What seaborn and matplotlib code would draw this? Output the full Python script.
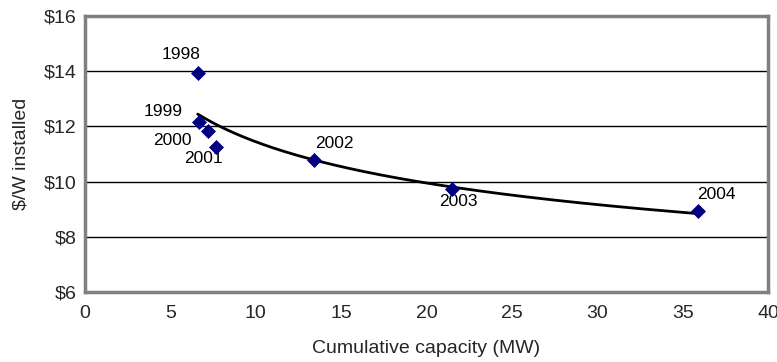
import numpy as np
import pandas as pd
from matplotlib import pyplot as plt
import seaborn as sns

years = ["1998", "1999", "2000", "2001", "2002", "2003", "2004"]
capacity_mw = [6.6, 6.65, 7.2, 7.7, 13.4, 21.5, 35.9]
cost_per_w = [13.95, 12.16, 11.85, 11.27, 10.8, 9.75, 8.94]
# label offsets in pixels (dx, dy) from each marker
label_offsets = [(-17, 18), (-35, 10), (-36, -10), (-13, -12), (21, 16), (6, -13), (18, 16)]

df = pd.DataFrame({"year": years, "capacity": capacity_mw, "cost": cost_per_w})

sns.set_theme(style="white")
plt.rcParams["font.family"] = ["Liberation Sans", "DejaVu Sans"]

fig = plt.figure(figsize=(7.77, 3.62), dpi=100)
ax = fig.add_axes([85 / 777, 1 - 292 / 362, (768 - 85) / 777, (292 - 16) / 362])

# power-law trendline fitted to the data (like an Excel power trendline)
b, log_a = np.polyfit(np.log(df["capacity"]), np.log(df["cost"]), 1)
trend_x = np.linspace(df["capacity"].min(), df["capacity"].max(), 200)
trend = pd.DataFrame({"capacity": trend_x, "cost": np.exp(log_a) * trend_x ** b})
sns.lineplot(data=trend, x="capacity", y="cost", ax=ax, color="black", linewidth=2, zorder=3)

sns.scatterplot(data=df, x="capacity", y="cost", ax=ax, marker="D", s=50,
                color="#000080", edgecolor="#000080", zorder=4)

for (_, row), (dx, dy) in zip(df.iterrows(), label_offsets):
    ax.annotate(row["year"], (row["capacity"], row["cost"]), xytext=(dx, dy),
                textcoords="offset pixels", ha="center", va="center", fontsize=12.5, color="black")

ax.set_xlim(0, 40)
ax.set_ylim(6, 16)
ax.set_xticks(range(0, 41, 5))
ax.set_yticks(range(6, 17, 2))
ax.set_yticklabels([f"${v}" for v in range(6, 17, 2)])
ax.tick_params(axis="y", length=4, width=1, color="black", direction="out", labelsize=14, pad=2)
ax.tick_params(axis="x", length=0, labelsize=14, pad=9)
ax.yaxis.grid(True, color="black", linewidth=1)
ax.set_axisbelow(True)
for s in ax.spines.values():
    s.set_visible(True)
    s.set_color("#808080")
    s.set_linewidth(2.5)

ax.set_xlabel("Cumulative capacity (MW)", fontsize=14, labelpad=13)
ax.set_ylabel("$/W installed", fontsize=14, labelpad=10)

fig.savefig("out.png", dpi=100)
